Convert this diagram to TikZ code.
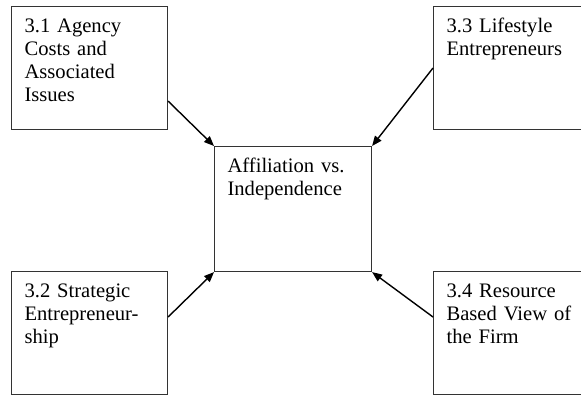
\documentclass[tikz,border=0pt]{standalone}
\usepackage{fontspec}
\setmainfont{Liberation Serif}
\usetikzlibrary{arrows.meta}

\begin{document}
\begin{tikzpicture}[x=1pt,y=-1pt,
topicbox/.style={draw=black!80, line width=1.1pt, rectangle, anchor=north west, align=left, inner xsep=13pt, inner ysep=0pt, text height=26pt, font=\fontsize{20.6}{23}\selectfont},
link/.style={-{Triangle[length=10pt,width=8pt]}, line width=1.4pt}
]
    \useasboundingbox (0,0) rectangle (581,396);

    \node [topicbox, text width=130pt, text depth=97pt] (agency) at (11,6) {3.1 Agency\\Costs and\\Associated\\Issues};
    \node [topicbox, text width=131pt, text depth=97pt] (lifestyle) at (433,6) {3.3 Lifestyle\\Entrepreneurs};

    \node [topicbox, text width=131pt, text depth=99pt] (center) at (214,146) {Affiliation vs.\\Independence};

    \node [topicbox, text width=130pt, text depth=97pt] (strategic) at (11,271) {3.2 Strategic\\Entrepreneur-\\ship};
    \node [topicbox, text width=131pt, text depth=97pt] (resource) at (433,271) {3.4 Resource\\Based View of\\the Firm};

    \draw [link] ([yshift=29pt]agency.south east) -- (center.north west);
    \draw [link] ([yshift=-62pt]lifestyle.north west) -- (center.north east);
    \draw [link] ([yshift=-46pt]strategic.north east) -- (center.south west);
    \draw [link] ([yshift=-46pt]resource.north west) -- (center.south east);
\end{tikzpicture}
\end{document}
